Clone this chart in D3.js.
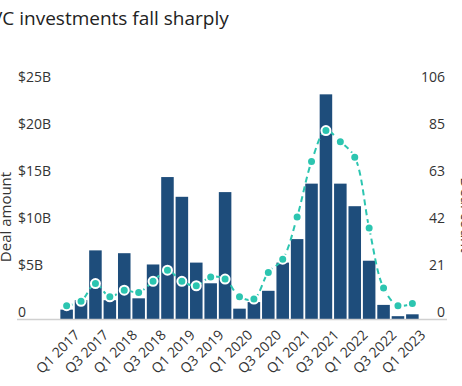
<!DOCTYPE html>
<html>
<head>
<meta charset="utf-8">
<script src="https://cdn.jsdelivr.net/npm/d3@7"></script>
<style>
  body { margin: 0; background: #fff; }
  svg { display: block; font-family: "Open Sans", sans-serif; }
</style>
</head>
<body>
<svg id="chart"></svg>
<script>
//Quarters shown on the x axis
var quarters = ["Q1 2017","Q2 2017","Q3 2017","Q4 2017","Q1 2018","Q2 2018","Q3 2018","Q4 2018",
                "Q1 2019","Q2 2019","Q3 2019","Q4 2019","Q1 2020","Q2 2020","Q3 2020","Q4 2020",
                "Q1 2021","Q2 2021","Q3 2021","Q4 2021","Q1 2022","Q2 2022","Q3 2022","Q4 2022","Q1 2023"];
//Deal amount in $B (bars)
var dealAmount = [1.0, 2.0, 7.3, 2.0, 7.0, 2.2, 5.8, 15.1, 13.0, 6.0, 3.8, 13.5, 1.1, 1.8, 3.0, 6.0,
                  8.5, 14.4, 23.9, 14.4, 12.0, 6.2, 1.5, 0.3, 0.5];
//Deal count (line)
var dealCount = [6, 8, 16, 10, 13, 12, 17, 22, 17, 15, 19, 18, 10, 9, 21, 27,
                 46, 71, 85, 80, 73, 41, 14, 6, 7];
//Axis ticks
var leftTicks = [0, 5, 10, 15, 20, 25];
var leftLabels = ["0", "$5B", "$10B", "$15B", "$20B", "$25B"];
var rightLabels = ["0", "21", "42", "63", "85", "106"];

var width = 462, height = 386;
var svg = d3.select("#chart").attr("width", width).attr("height", height);

var xScale = d3.scaleBand()
    .domain(quarters)
    .range([59.5, 419.5])
    .paddingInner(0.13)
    .paddingOuter(0.06);

var yScale = d3.scaleLinear().domain([0, 25]).range([319, 84]);
var y2Scale = d3.scaleLinear().domain([0, 106]).range([319, 84]);

//Title
svg.append("text")
    .attr("x", -9)
    .attr("y", 25)
    .style("font-size", "19px")
    .style("fill", "#222")
    .text("VC investments fall sharply");

//Axis titles (cut by the edges)
svg.append("text")
    .attr("transform", "translate(11," + 217 + ") rotate(-90)")
    .attr("text-anchor", "middle")
    .style("font-size", "15px")
    .style("fill", "#333")
    .text("Deal amount");

svg.append("text")
    .attr("transform", "translate(461," + 215 + ") rotate(90)")
    .attr("text-anchor", "middle")
    .style("font-size", "15px")
    .style("fill", "#333")
    .text("Deal count");

//Left tick labels
svg.append("g").selectAll("text")
    .data(leftTicks)
    .join("text")
    .attr("x", 18)
    .attr("y", function(d){ return yScale(d) - 2; })
    .style("font-size", "14px")
    .style("fill", "#333")
    .text(function(d, i){ return leftLabels[i]; });

//Right tick labels
svg.append("g").selectAll("text")
    .data(rightLabels)
    .join("text")
    .attr("x", 445)
    .attr("y", function(d, i){ return y2Scale(106 * i / 5) - 2; })
    .attr("text-anchor", "end")
    .style("font-size", "14px")
    .style("fill", "#333")
    .text(function(d){ return d; });

//Bars
svg.append("g").selectAll("rect")
    .data(dealAmount)
    .join("rect")
    .attr("x", function(d, i){ return xScale(quarters[i]); })
    .attr("y", function(d){ return yScale(d); })
    .attr("width", xScale.bandwidth())
    .attr("height", function(d){ return yScale(0) - yScale(d); })
    .style("fill", "#1e4d7b");

//Baseline
svg.append("line")
    .attr("x1", 17).attr("x2", 447)
    .attr("y1", 319.5).attr("y2", 319.5)
    .style("stroke", "#d0d0d0")
    .style("stroke-width", 1.5);

//X labels every other quarter
svg.append("g").selectAll("text")
    .data(quarters.filter(function(d, i){ return i % 2 === 0; }))
    .join("text")
    .attr("transform", function(d){
        return "translate(" + (xScale(d) + xScale.bandwidth() / 2 + 7) + ",329) rotate(-45)";
    })
    .attr("text-anchor", "end")
    .attr("dy", "0.7em")
    .style("font-size", "14px")
    .style("fill", "#333")
    .text(function(d){ return d; });

//Deal count line
var line = d3.line()
    .x(function(d, i){ return xScale(quarters[i]) + xScale.bandwidth() / 2; })
    .y(function(d){ return y2Scale(d); })
    .curve(d3.curveCatmullRom);

svg.append("path")
    .datum(dealCount)
    .attr("d", line)
    .style("fill", "none")
    .style("stroke", "#2cc5b0")
    .style("stroke-width", 2)
    .style("stroke-dasharray", "6,4");

svg.append("g").selectAll("circle")
    .data(dealCount)
    .join("circle")
    .attr("cx", function(d, i){ return xScale(quarters[i]) + xScale.bandwidth() / 2; })
    .attr("cy", function(d){ return y2Scale(d); })
    .attr("r", 4.5)
    .style("fill", "#2cc5b0")
    .style("stroke", "#fff")
    .style("stroke-width", 2);
</script>
</body>
</html>
